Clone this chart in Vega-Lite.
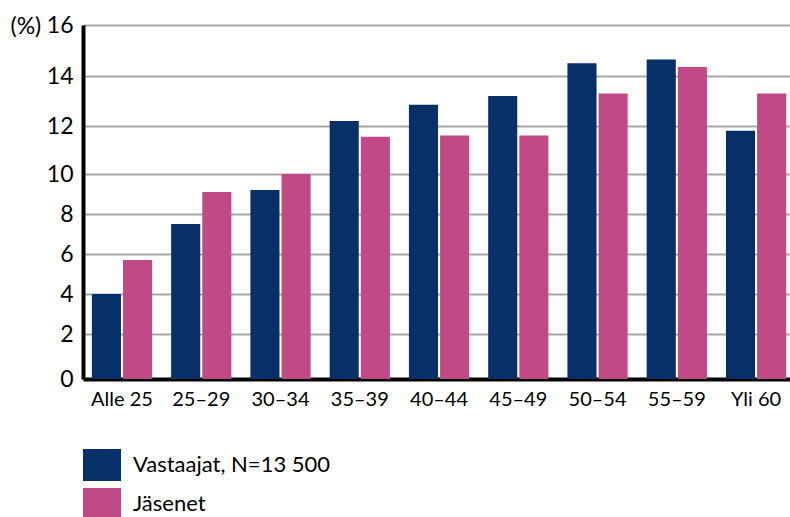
{
  "$schema": "https://vega.github.io/schema/vega-lite/v6.json",
  "width": 707,
  "height": 354,
  "autosize": {"type": "none"},
  "padding": {"left": 83, "top": 25, "right": 0, "bottom": 138},
  "background": "white",
  "config": {
    "view": {"stroke": null},
    "font": "Lato"
  },
  "data": {
    "values": [
      {"ika": "Alle 25", "ryhma": "Vastaajat, N=13 500", "osuus": 4.0},
      {"ika": "Alle 25", "ryhma": "Jäsenet", "osuus": 5.7},
      {"ika": "25–29", "ryhma": "Vastaajat, N=13 500", "osuus": 7.5},
      {"ika": "25–29", "ryhma": "Jäsenet", "osuus": 9.1},
      {"ika": "30–34", "ryhma": "Vastaajat, N=13 500", "osuus": 9.2},
      {"ika": "30–34", "ryhma": "Jäsenet", "osuus": 10.0},
      {"ika": "35–39", "ryhma": "Vastaajat, N=13 500", "osuus": 12.2},
      {"ika": "35–39", "ryhma": "Jäsenet", "osuus": 11.55},
      {"ika": "40–44", "ryhma": "Vastaajat, N=13 500", "osuus": 12.85},
      {"ika": "40–44", "ryhma": "Jäsenet", "osuus": 11.6},
      {"ika": "45–49", "ryhma": "Vastaajat, N=13 500", "osuus": 13.2},
      {"ika": "45–49", "ryhma": "Jäsenet", "osuus": 11.6},
      {"ika": "50–54", "ryhma": "Vastaajat, N=13 500", "osuus": 14.5},
      {"ika": "50–54", "ryhma": "Jäsenet", "osuus": 13.3},
      {"ika": "55–59", "ryhma": "Vastaajat, N=13 500", "osuus": 14.65},
      {"ika": "55–59", "ryhma": "Jäsenet", "osuus": 14.35},
      {"ika": "Yli 60", "ryhma": "Vastaajat, N=13 500", "osuus": 11.8},
      {"ika": "Yli 60", "ryhma": "Jäsenet", "osuus": 13.3}
    ]
  },
  "mark": {"type": "bar"},
  "encoding": {
    "x": {
      "field": "ika",
      "type": "nominal",
      "sort": null,
      "scale": {"paddingInner": 0.24, "paddingOuter": 0.08, "align": 0.7},
      "axis": {
        "title": null,
        "labelAngle": 0,
        "ticks": false,
        "domainColor": "#000000",
        "domainWidth": 4,
        "labelFontSize": 20,
        "labelColor": "#000000",
        "labelPadding": 10,
        "grid": false
      }
    },
    "xOffset": {
      "field": "ryhma",
      "type": "nominal",
      "sort": ["Vastaajat, N=13 500", "Jäsenet"],
      "scale": {"paddingInner": 0.066, "paddingOuter": 0}
    },
    "y": {
      "field": "osuus",
      "type": "quantitative",
      "scale": {
        "domain": [0, 2, 10, 12, 14, 16],
        "range": [354, 309, 149, 101, 51, 0],
        "nice": false,
        "zero": false
      },
      "axis": {
        "values": [0, 2, 4, 6, 8, 10, 12, 14, 16],
        "title": "(%)",
        "titleAngle": 0,
        "titleAlign": "left",
        "titleBaseline": "middle",
        "titleX": -73,
        "titleY": 1,
        "titleFontSize": 23,
        "titleFontWeight": "normal",
        "titleColor": "#000000",
        "ticks": false,
        "domainColor": "#000000",
        "domainWidth": 4,
        "labelFontSize": 23,
        "labelColor": "#000000",
        "labelPadding": 10,
        "grid": true,
        "gridColor": "#a8a8a8",
        "gridWidth": 2
      }
    },
    "color": {
      "field": "ryhma",
      "type": "nominal",
      "scale": {
        "domain": ["Vastaajat, N=13 500", "Jäsenet"],
        "range": ["#072F68", "#C14A86"]
      },
      "legend": {
        "title": null,
        "orient": "none",
        "legendX": 0,
        "legendY": 421,
        "direction": "vertical",
        "symbolType": "M-1,-0.84H1V0.84H-1Z",
        "symbolSize": 1444,
        "symbolStrokeWidth": 0,
        "symbolOpacity": 1,
        "labelFontSize": 22,
        "labelColor": "#000000",
        "labelOffset": 12,
        "labelLimit": 0,
        "rowPadding": 4,
        "padding": 0
      }
    }
  }
}
